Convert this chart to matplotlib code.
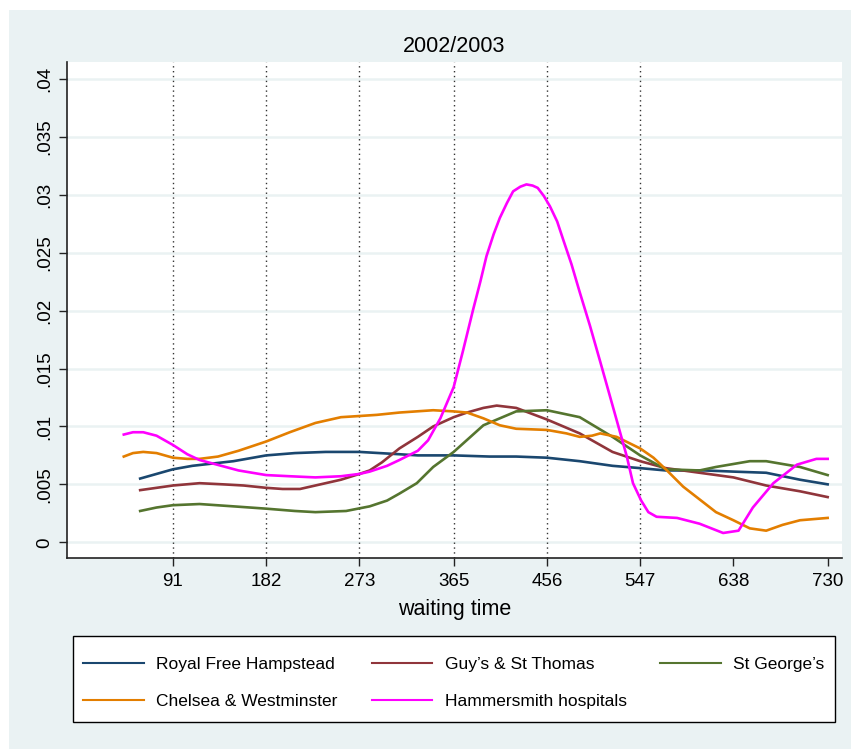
import numpy as np
import matplotlib
matplotlib.use("Agg")
import matplotlib.pyplot as plt
from matplotlib.patches import Rectangle

plt.rcParams['font.family'] = ['Liberation Sans', 'DejaVu Sans']

bg = '#EAF2F3'

# Kernel density estimates (day, density)
royalDays = [59, 75, 91, 110, 130, 150, 182, 210, 240, 273, 312, 330, 365, 400, 426, 456, 488, 520, 547, 572, 610, 638, 670, 703, 730]
royalVals = [0.0055, 0.0059, 0.0063, 0.0066, 0.0068, 0.0070, 0.0075, 0.0077, 0.0078, 0.0078, 0.0076, 0.0075, 0.0075, 0.0074, 0.0074, 0.0073, 0.0070, 0.0066, 0.0064, 0.0062, 0.0062, 0.0061, 0.0060, 0.0054, 0.0050]

guysDays = [59, 75, 91, 117, 140, 160, 182, 198, 215, 230, 255, 273, 283, 295, 312, 330, 345, 365, 378, 394, 407, 426, 456, 488, 520, 547, 572, 605, 638, 670, 703, 730]
guysVals = [0.0045, 0.0047, 0.0049, 0.0051, 0.0050, 0.0049, 0.0047, 0.0046, 0.0046, 0.0049, 0.0054, 0.0059, 0.0062, 0.0069, 0.0081, 0.0091, 0.0100, 0.0108, 0.0112, 0.0116, 0.0118, 0.0116, 0.0106, 0.0094, 0.0078, 0.0070, 0.0064, 0.0060, 0.0056, 0.0049, 0.0044, 0.0039]

georgeDays = [59, 75, 91, 117, 150, 182, 210, 230, 260, 283, 300, 312, 329, 345, 365, 394, 426, 456, 488, 520, 547, 572, 605, 621, 654, 670, 703, 730]
georgeVals = [0.0027, 0.0030, 0.0032, 0.0033, 0.0031, 0.0029, 0.0027, 0.0026, 0.0027, 0.0031, 0.0036, 0.0042, 0.0051, 0.0065, 0.0078, 0.0101, 0.0113, 0.0114, 0.0108, 0.0091, 0.0075, 0.0063, 0.0062, 0.0065, 0.0070, 0.0070, 0.0065, 0.0058]

chelseaDays = [43, 52, 62, 75, 91, 105, 117, 135, 155, 182, 205, 230, 255, 273, 290, 312, 345, 365, 378, 394, 410, 426, 456, 475, 488, 500, 508, 524, 547, 560, 572, 589, 605, 621, 638, 654, 670, 686, 703, 730]
chelseaVals = [0.0074, 0.0077, 0.0078, 0.0077, 0.0073, 0.0072, 0.0072, 0.0074, 0.0079, 0.0087, 0.0095, 0.0103, 0.0108, 0.0109, 0.0110, 0.0112, 0.0114, 0.0113, 0.0112, 0.0107, 0.0101, 0.0098, 0.0097, 0.0094, 0.0091, 0.0092, 0.0094, 0.0091, 0.0081, 0.0073, 0.0063, 0.0048, 0.0037, 0.0026, 0.0019, 0.0012, 0.0010, 0.0015, 0.0019, 0.0021]

hammerDays = [43, 52, 62, 75, 91, 105, 117, 134, 155, 182, 205, 230, 255, 273, 283, 300, 312, 330, 340, 352, 365, 374, 384, 391, 397, 404, 410, 417, 423, 430, 436, 442, 447, 453, 459, 466, 472, 480, 488, 498, 508, 522, 534, 540, 548, 555, 563, 583, 605, 628, 643, 657, 677, 700, 719, 730]
hammerVals = [0.0093, 0.0095, 0.0095, 0.0092, 0.0084, 0.0076, 0.0071, 0.0067, 0.0062, 0.0058, 0.0057, 0.0056, 0.0057, 0.0059, 0.0061, 0.0066, 0.0071, 0.0079, 0.0088, 0.0107, 0.0134, 0.0165, 0.0201, 0.0225, 0.0247, 0.0266, 0.0280, 0.0293, 0.0303, 0.0307, 0.0309, 0.0308, 0.0306, 0.0299, 0.0290, 0.0277, 0.0261, 0.0240, 0.0216, 0.0187, 0.0156, 0.0112, 0.0074, 0.0051, 0.0036, 0.0026, 0.0022, 0.0021, 0.0016, 0.0008, 0.0010, 0.0030, 0.0051, 0.0067, 0.0072, 0.0072]

series = [
    ("Royal Free Hampstead", royalDays, royalVals, '#1a476f'),
    ("Guy\u2019s & St Thomas", guysDays, guysVals, '#90353b'),
    ("St George\u2019s", georgeDays, georgeVals, '#55752f'),
    ("Chelsea & Westminster", chelseaDays, chelseaVals, '#e37e00'),
    ("Hammersmith hospitals", hammerDays, hammerVals, '#ff00ff'),
]

xTicks = [91, 182, 273, 365, 456, 547, 638, 730]
xLines = [91, 182, 273, 365, 456, 547]
yTicks = [0, 0.005, 0.01, 0.015, 0.02, 0.025, 0.03, 0.035, 0.04]
yLabels = ['0', '.005', '.01', '.015', '.02', '.025', '.03', '.035', '.04']

W, H = 851, 749
fig = plt.figure(figsize=(W / 100, H / 100), dpi=100, facecolor='white')
fig.patches.append(Rectangle((9 / W, 0), 1, 1 - 10 / H, transform=fig.transFigure,
                             facecolor=bg, edgecolor='none', zorder=-10))

ax = fig.add_axes([66.7 / W, 1 - 558 / H, (842 - 66.7) / W, (558 - 62) / H])
ax.set_facecolor('white')

for y in yTicks:
    ax.axhline(y, color=bg, lw=1.8, zorder=1)
for x in xLines:
    ax.axvline(x, color='#333333', lw=1.0, ls=(0, (1, 2.5)), zorder=1)

handles = {}
for name, d, v, c in series:
    h, = ax.plot(d, v, color=c, lw=1.9, zorder=3, label=name)
    handles[name] = h

ax.set_xlim(-12.7, 744)
ax.set_ylim(-0.00136, 0.04147)
ax.set_xticks(xTicks)
ax.set_yticks(yTicks)
ax.set_yticklabels(yLabels, rotation=90, va='center')
ax.tick_params(axis='both', length=6, width=1, color='#222222', labelsize=13.5, pad=4)
ax.tick_params(axis='x', pad=5)

for s in ['top', 'right']:
    ax.spines[s].set_visible(False)
for s in ['left', 'bottom']:
    ax.spines[s].set_linewidth(1.2)
    ax.spines[s].set_color('#222222')

ax.set_title("2002/2003", fontsize=15.5, pad=7)
ax.set_xlabel("waiting time", fontsize=15.5, labelpad=6)

# legend box drawn by hand so its size matches the reference
fig.patches.append(Rectangle((73 / W, 1 - 722 / H), (835 - 73) / W, 86 / H,
                             transform=fig.transFigure, facecolor='white',
                             edgecolor='black', lw=1.0, zorder=1))

order = ["Royal Free Hampstead", "Chelsea & Westminster", "Guy\u2019s & St Thomas",
         "Hammersmith hospitals", "St George\u2019s"]
leg = fig.legend([handles[n] for n in order], order, ncol=3, loc='center',
                 bbox_to_anchor=(73 / W, 1 - 726 / H, (835 - 73) / W, 86 / H),
                 mode='expand', fontsize=12.5, frameon=False,
                 handlelength=3.5, handletextpad=0.7, columnspacing=2.0,
                 labelspacing=1.25, borderpad=0.6, borderaxespad=0)
for line in leg.get_lines():
    line.set_linewidth(1.5)

fig.savefig('out.png', dpi=100)
